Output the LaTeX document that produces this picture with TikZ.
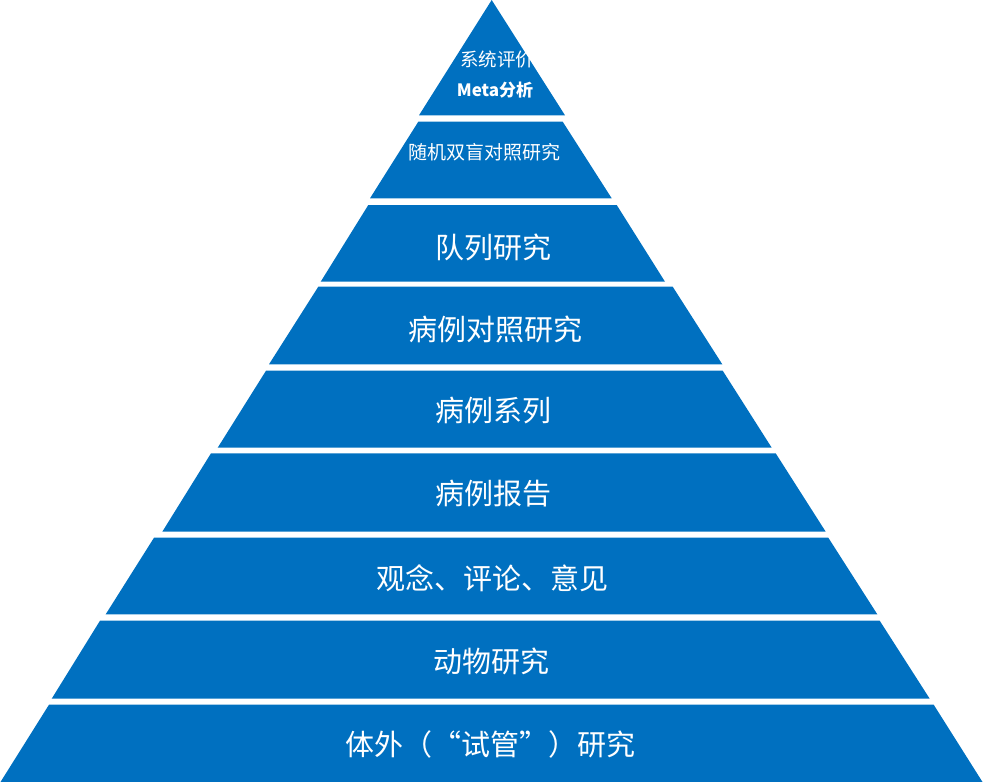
\documentclass[tikz,border=0pt]{standalone}
\usepackage{fontspec}
\newfontfamily\cjk{Noto Sans CJK SC}
\begin{document}
\begin{tikzpicture}[x=1pt,y=-1pt,
  pyr/.style={fill={rgb,255:red,0;green,112;blue,192}},
  lbl/.style={text=white,inner sep=0pt,font=\cjk\fontsize{29}{29}\selectfont},
  lblsmall/.style={text=white,inner sep=0pt,font=\cjk\fontsize{19}{19}\selectfont}]
\useasboundingbox (0,0) rectangle (983,782);
% band: top y, top left x, top right x, bottom y, bottom left x, bottom right x
\def\band#1#2#3#4#5#6{\fill[pyr] (#2,#1) -- (#3,#1) -- (#6,#4) -- (#5,#4) -- cycle;}
\fill[pyr] (491.7,0) -- (565,115.3) -- (419,115.3) -- cycle;
\band{121.7}{418.3}{562.7}{198.3}{370}{611.7}
\band{205}{368.3}{616.7}{281.7}{320.7}{665}
\band{286.7}{318.3}{672.7}{364.3}{269}{722.3}
\band{370.7}{266}{722.7}{447.7}{217.7}{771.7}
\band{453.3}{211}{775.7}{531.7}{162.3}{825.7}
\band{537.7}{154}{828.3}{614.3}{105.7}{877.3}
\band{620.7}{100}{879.7}{698.7}{51.7}{929.7}
\band{704.7}{49}{933.7}{782}{0.5}{982.5}
\begin{scope}
\clip (0,0) rectangle (535,782);
\node[lblsmall,font=\cjk\fontsize{18.5}{18.5}\selectfont,anchor=west] (t1) at (460,60) {系统评价};
\end{scope}
\node[lblsmall,font=\cjk\bfseries\fontsize{17}{17}\selectfont] (t1b) at (495,90) {Meta分析};
\node[lblsmall] (t2) at (484,152) {随机双盲对照研究};
\node[lbl] (t3) at (493,247) {队列研究};
\node[lbl] (t4) at (495,329) {病例对照研究};
\node[lbl] (t5) at (493,411) {病例系列};
\node[lbl] (t6) at (493,494) {病例报告};
\node[lbl] (t7) at (492,578) {观念、评论、意见};
\node[lbl] (t8) at (491,661) {动物研究};
\node[lbl] (t9) at (490,744) {体外（“试管”）研究};
\end{tikzpicture}
\end{document}
